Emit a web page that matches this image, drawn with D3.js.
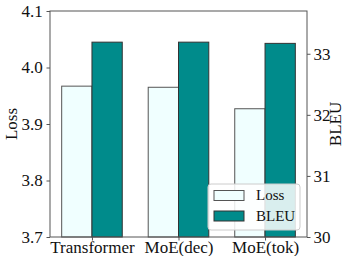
<!DOCTYPE html>
<html><head><meta charset="utf-8">
<script src="https://cdn.jsdelivr.net/npm/d3@7"></script>
<style>body{margin:0;background:#fff}svg{display:block}</style>
</head><body><svg id="c" width="346" height="256"></svg>
<script>
const categories = ["Transformer", "MoE(dec)", "MoE(tok)"];
const lossValues = [3.967, 3.965, 3.927];
const bleuValues = [33.19, 33.19, 33.17];
const lossTicks = [3.7, 3.8, 3.9, 4.0, 4.1];
const bleuTicks = [30, 31, 32, 33];

const W = 346, H = 256;
const m = {l: 50, r: 39, t: 11, b: 19};
const svg = d3.select("#c");
const font = "Liberation Serif, Times New Roman, serif";

const x = d3.scaleLinear().domain([-0.485, 2.485]).range([m.l, W - m.r]);
const yL = d3.scaleLinear().domain([3.7, 4.1]).range([H - m.b, m.t]);
const yR = d3.scaleLinear().domain([30, 33.7]).range([H - m.b, m.t]);
const bw = 0.35;

const g = svg.append("g");
// bars
g.selectAll(".loss").data(lossValues).enter().append("rect")
  .attr("x", (d, i) => x(i - bw)).attr("width", x(bw) - x(0))
  .attr("y", d => yL(d)).attr("height", d => yL(3.7) - yL(d))
  .attr("fill", "#f0ffff").attr("stroke", "#555").attr("stroke-width", 1);
g.selectAll(".bleu").data(bleuValues).enter().append("rect")
  .attr("x", (d, i) => x(i)).attr("width", x(bw) - x(0))
  .attr("y", d => yR(d)).attr("height", d => yR(30) - yR(d))
  .attr("fill", "#008b8b").attr("stroke", "#333").attr("stroke-width", 1);

// axes
const axL = g.append("g").attr("transform", `translate(${m.l},0)`)
  .call(d3.axisLeft(yL).tickValues(lossTicks).tickFormat(d3.format(".1f")).tickSizeOuter(0).tickSize(3.5));
const axR = g.append("g").attr("transform", `translate(${W - m.r},0)`)
  .call(d3.axisRight(yR).tickValues(bleuTicks).tickFormat(d3.format("d")).tickSizeOuter(0).tickSize(3.5));
const axB = g.append("g").attr("transform", `translate(0,${H - m.b})`)
  .call(d3.axisBottom(x).tickValues([0, 1, 2]).tickFormat((d) => categories[d]).tickSizeOuter(0).tickSize(3.5));
[axL, axR, axB].forEach(a => {
  a.select(".domain").remove();
  a.selectAll("line").attr("stroke", "#555");
  a.selectAll("text").attr("font-family", font).attr("font-size", 17).attr("fill", "#111");
});
axL.selectAll("text").attr("dx", "-0.05em");
axB.selectAll("text").attr("dy", "0.55em");

// frame
g.append("rect").attr("x", m.l).attr("y", m.t).attr("width", W - m.l - m.r).attr("height", H - m.t - m.b)
  .attr("fill", "none").attr("stroke", "#555").attr("stroke-width", 1);

// axis labels
svg.append("text").attr("transform", `translate(17,${(m.t + H - m.b) / 2}) rotate(-90)`)
  .attr("text-anchor", "middle").attr("font-family", font).attr("font-size", 17).attr("fill", "#111").text("Loss");
svg.append("text").attr("transform", `translate(341,${(m.t + H - m.b) / 2}) rotate(-90)`)
  .attr("text-anchor", "middle").attr("font-family", font).attr("font-size", 17).attr("fill", "#111").text("BLEU");

// legend
const lg = svg.append("g").attr("transform", "translate(208,184)");
lg.append("rect").attr("width", 92).attr("height", 46).attr("rx", 3)
  .attr("fill", "#fff").attr("fill-opacity", 0.85).attr("stroke", "#ccc");
const items = [{n: "Loss", c: "#f0ffff", s: "#555"}, {n: "BLEU", c: "#008b8b", s: "#333"}];
items.forEach((it, i) => {
  lg.append("rect").attr("x", 6).attr("y", 6.5 + i * 20.5).attr("width", 30).attr("height", 10)
    .attr("fill", it.c).attr("stroke", it.s);
  lg.append("text").attr("x", 48).attr("y", 16 + i * 20.5).attr("font-family", font).attr("font-size", 15)
    .attr("fill", "#111").text(it.n);
});
</script></body></html>
